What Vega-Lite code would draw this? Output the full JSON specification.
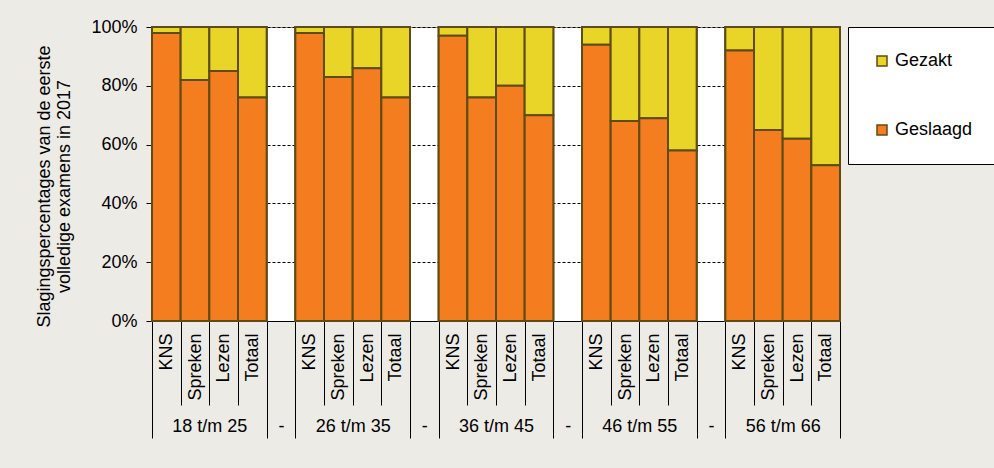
{
  "$schema": "https://vega.github.io/schema/vega-lite/v6.json",
  "width": 688,
  "height": 294,
  "padding": {"left": 35, "top": 18, "right": 6, "bottom": 30},
  "background": "#EDEBE6",
  "datasets": {
    "bars": [
      {"groep": "18 t/m 25", "item": "KNS", "slot": 0, "Geslaagd": 98, "Gezakt": 2},
      {"groep": "18 t/m 25", "item": "Spreken", "slot": 1, "Geslaagd": 82, "Gezakt": 18},
      {"groep": "18 t/m 25", "item": "Lezen", "slot": 2, "Geslaagd": 85, "Gezakt": 15},
      {"groep": "18 t/m 25", "item": "Totaal", "slot": 3, "Geslaagd": 76, "Gezakt": 24},
      {"groep": "26 t/m 35", "item": "KNS", "slot": 5, "Geslaagd": 98, "Gezakt": 2},
      {"groep": "26 t/m 35", "item": "Spreken", "slot": 6, "Geslaagd": 83, "Gezakt": 17},
      {"groep": "26 t/m 35", "item": "Lezen", "slot": 7, "Geslaagd": 86, "Gezakt": 14},
      {"groep": "26 t/m 35", "item": "Totaal", "slot": 8, "Geslaagd": 76, "Gezakt": 24},
      {"groep": "36 t/m 45", "item": "KNS", "slot": 10, "Geslaagd": 97, "Gezakt": 3},
      {"groep": "36 t/m 45", "item": "Spreken", "slot": 11, "Geslaagd": 76, "Gezakt": 24},
      {"groep": "36 t/m 45", "item": "Lezen", "slot": 12, "Geslaagd": 80, "Gezakt": 20},
      {"groep": "36 t/m 45", "item": "Totaal", "slot": 13, "Geslaagd": 70, "Gezakt": 30},
      {"groep": "46 t/m 55", "item": "KNS", "slot": 15, "Geslaagd": 94, "Gezakt": 6},
      {"groep": "46 t/m 55", "item": "Spreken", "slot": 16, "Geslaagd": 68, "Gezakt": 32},
      {"groep": "46 t/m 55", "item": "Lezen", "slot": 17, "Geslaagd": 69, "Gezakt": 31},
      {"groep": "46 t/m 55", "item": "Totaal", "slot": 18, "Geslaagd": 58, "Gezakt": 42},
      {"groep": "56 t/m 66", "item": "KNS", "slot": 20, "Geslaagd": 92, "Gezakt": 8},
      {"groep": "56 t/m 66", "item": "Spreken", "slot": 21, "Geslaagd": 65, "Gezakt": 35},
      {"groep": "56 t/m 66", "item": "Lezen", "slot": 22, "Geslaagd": 62, "Gezakt": 38},
      {"groep": "56 t/m 66", "item": "Totaal", "slot": 23, "Geslaagd": 53, "Gezakt": 47}
    ],
    "groupEdges": [
      {"pos": 0}, {"pos": 4}, {"pos": 5}, {"pos": 9}, {"pos": 10}, {"pos": 14}, {"pos": 15}, {"pos": 19}, {"pos": 20}, {"pos": 24}
    ],
    "groups": [
      {"groep": "18 t/m 25", "start": 0, "end": 4},
      {"groep": "26 t/m 35", "start": 5, "end": 9},
      {"groep": "36 t/m 45", "start": 10, "end": 14},
      {"groep": "46 t/m 55", "start": 15, "end": 19},
      {"groep": "56 t/m 66", "start": 20, "end": 24}
    ]
  },
  "layer": [
    {
      "data": {"name": "groupEdges"},
      "mark": {"type": "rule", "color": "#5E4B16", "strokeWidth": 1},
      "encoding": {
        "x": {
          "field": "pos", "type": "quantitative",
          "scale": {"domain": [0, 24], "nice": false, "zero": false},
          "axis": {
            "orient": "bottom", "title": null, "values": [0,4,5,9,10,14,15,19,20,24],
            "labels": false, "ticks": true, "tickSize": 117, "tickColor": "#000000", "tickWidth": 1,
            "domain": false, "grid": false
          }
        }
      }
    },
    {
      "data": {"name": "groups"},
      "mark": {"type": "rect", "fill": "white", "stroke": "#5E4B16", "strokeWidth": 2},
      "encoding": {
        "x": {
          "field": "start", "type": "quantitative",
          "scale": {"domain": [0, 24], "nice": false, "zero": false},
          "axis": {
            "orient": "bottom", "title": null, "values": [2, 4.5, 7, 9.5, 12, 14.5, 17, 19.5, 22],
            "labelExpr": "datum.value % 1 ? '-' : ['18 t/m 25','26 t/m 35','36 t/m 45','46 t/m 55','56 t/m 66'][floor(datum.value / 5)]",
            "ticks": false, "tickSize": 0, "labelPadding": 96, "labelAngle": 0, "labelAlign": "center",
            "labelOverlap": false, "labelFlush": false, "domain": false, "grid": false
          }
        },
        "x2": {"field": "end"}
      }
    },
    {
      "data": {"name": "bars"},
      "transform": [{"fold": ["Gezakt", "Geslaagd"], "as": ["uitslag", "pct"]}],
      "mark": {"type": "bar", "stroke": "#5E4B16", "strokeWidth": 2},
      "encoding": {
        "x": {
          "field": "slot", "type": "ordinal",
          "scale": {"domain": [0,1,2,3,4,5,6,7,8,9,10,11,12,13,14,15,16,17,18,19,20,21,22,23], "paddingInner": 0, "paddingOuter": 0},
          "axis": {
            "orient": "bottom", "title": null,
            "labelExpr": "datum.value % 5 == 4 ? '' : ['KNS','Spreken','Lezen','Totaal'][datum.value % 5]",
            "labelAngle": 270, "labelAlign": "right", "labelBaseline": "middle",
            "ticks": true, "tickBand": "extent", "tickSize": 84, "tickColor": "#000000", "tickWidth": 1,
            "labelPadding": -72, "labelOverlap": false, "labelFlush": false,
            "domain": true, "domainColor": "#000000", "domainWidth": 1, "grid": false
          }
        },
        "y": {
          "field": "pct", "type": "quantitative", "stack": "normalize",
          "scale": {"domain": [0, 1]},
          "axis": {
            "title": ["Slagingspercentages van de eerste", "volledige examens in 2017"],
            "values": [0, 0.2, 0.4, 0.6, 0.8, 1], "format": ".0%",
            "tickSize": 6, "labelPadding": 9, "titlePadding": 17, "titleY": 159,
            "grid": true, "gridColor": "#000000", "gridDash": [3, 2], "gridWidth": 1,
            "domain": true, "domainColor": "#000000", "tickColor": "#000000", "labelFlush": false
          }
        },
        "color": {
          "field": "uitslag", "type": "nominal",
          "scale": {"domain": ["Gezakt", "Geslaagd"], "range": ["#E8D527", "#F47D20"]},
          "legend": {
            "title": null, "orient": "right", "offset": 8, "padding": 25,
            "fillColor": "white", "strokeColor": "#000000",
            "symbolType": "square", "symbolSize": 100, "symbolStrokeColor": "#5E4B16", "symbolStrokeWidth": 1.5,
            "symbolOpacity": 1, "labelFontSize": 18, "labelColor": "#000000", "rowPadding": 51, "labelOffset": 4
          }
        },
        "order": {"field": "uitslag", "sort": "ascending"}
      }
    }
  ],
  "resolve": {"scale": {"x": "independent"}, "axis": {"x": "independent"}},
  "config": {
    "font": "Liberation Sans",
    "view": {"fill": "white", "stroke": "#8A8A8A", "strokeWidth": 1},
    "axis": {
      "labelFontSize": 18, "labelColor": "#000000",
      "titleFontSize": 18, "titleFontWeight": "normal", "titleColor": "#000000", "titleLineHeight": 20
    }
  }
}
